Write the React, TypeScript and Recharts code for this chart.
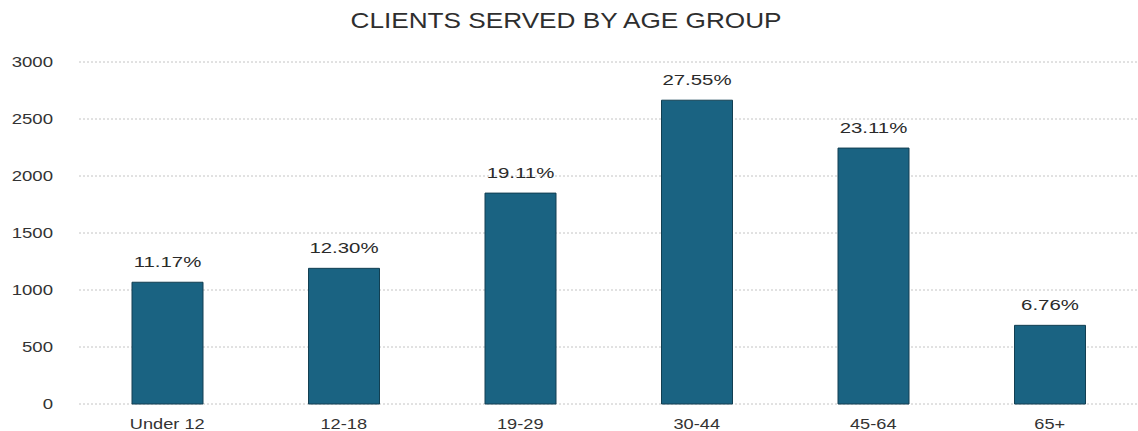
import React from "react";
import { BarChart, Bar, XAxis, YAxis, CartesianGrid, LabelList } from "recharts";

const title = "CLIENTS SERVED BY AGE GROUP";
const categories = ["Under 12", "12-18", "19-29", "30-44", "45-64", "65+"];
const clients = [1068, 1190, 1850, 2665, 2245, 690];
const shares = ["11.17%", "12.30%", "19.11%", "27.55%", "23.11%", "6.76%"];
const yTicks = [0, 500, 1000, 1500, 2000, 2500, 3000];

const data = categories.map((c, i) => ({ group: c, clients: clients[i], share: shares[i] }));

const FONT = "'Liberation Sans', Arial, sans-serif";

const XTick = (props: any) => {
  const { x, y, payload } = props;
  return (
    <text
      x={0}
      y={0}
      transform={`translate(${x},${y + 25}) scale(1.3,1)`}
      textAnchor="middle"
      fontFamily={FONT}
      fontSize={14}
      fill="#333"
    >
      {payload.value}
    </text>
  );
};

const YTick = (props: any) => {
  const { x, y, payload } = props;
  return (
    <text
      x={0}
      y={0}
      dy="0.36em"
      transform={`translate(${x},${y}) scale(1.24,1)`}
      textAnchor="end"
      fontFamily={FONT}
      fontSize={15}
      fill="#333"
    >
      {payload.value}
    </text>
  );
};

const ShareLabel = (props: any) => {
  const { x, y, width, index } = props;
  return (
    <text
      x={0}
      y={0}
      transform={`translate(${x + width / 2},${y - 15}) scale(1.36,1)`}
      textAnchor="middle"
      fontFamily={FONT}
      fontSize={15}
      fill="#2a2a2a"
    >
      {data[index].share}
    </text>
  );
};

export default function App() {
  return (
    <div style={{ position: "absolute", left: 0, top: 0, width: 1138, height: 431, background: "#fff" }}>
      <svg width={1138} height={40} style={{ position: "absolute", left: 0, top: 0 }}>
        <text
          x={0}
          y={0}
          transform="translate(566,28) scale(1.19,1)"
          textAnchor="middle"
          fontFamily={FONT}
          fontSize={22}
          fill="#2e2e2e"
        >
          {title}
        </text>
      </svg>
      <BarChart
        width={1138}
        height={431}
        data={data}
        margin={{ top: 62, right: 0, left: 0, bottom: 0 }}
      >
        <CartesianGrid vertical={false} stroke="#c4c4c4" strokeDasharray="2 2" />
        <XAxis
          dataKey="group"
          height={27}
          axisLine={false}
          tickLine={false}
          tickSize={0}
          tickMargin={0}
          interval={0}
          tick={<XTick />}
        />
        <YAxis
          width={79}
          domain={[0, 3000]}
          ticks={yTicks}
          interval={0}
          axisLine={false}
          tickLine={false}
          tickSize={0}
          tickMargin={26}
          tick={<YTick />}
        />
        <Bar dataKey="clients" fill="#1a6382" stroke="#123f52" strokeWidth={1} barSize={71} isAnimationActive={false}>
          <LabelList dataKey="share" content={<ShareLabel />} />
        </Bar>
      </BarChart>
    </div>
  );
}
